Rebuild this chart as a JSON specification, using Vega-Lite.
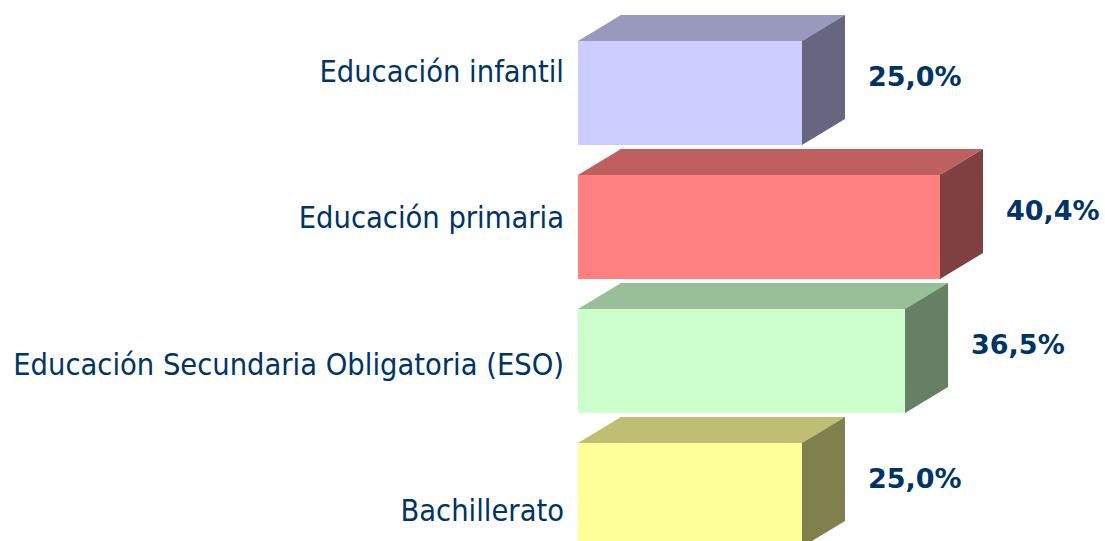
{
  "$schema": "https://vega.github.io/schema/vega-lite/v6.json",
  "autosize": {"type": "none"},
  "width": 448,
  "height": 500,
  "padding": {"left": 578, "top": 41, "right": 79, "bottom": 0},
  "background": "white",
  "config": {
    "view": {"stroke": null},
    "locale": {"number": {"decimal": ",", "thousands": ".", "grouping": [3], "currency": ["", " €"]}}
  },
  "data": {"values": [
    {"categoria": "Educación infantil", "valor": 0.25},
    {"categoria": "Educación primaria", "valor": 0.404},
    {"categoria": "Educación Secundaria Obligatoria (ESO)", "valor": 0.365},
    {"categoria": "Bachillerato", "valor": 0.25}
  ]},
  "layer": [
    {
      "layer": [
        {
          "mark": {"type": "bar"},
          "encoding": {
            "y": {"field": "categoria", "type": "nominal", "sort": null, "axis": null,
                  "scale": {"type": "band", "range": [0, 506], "paddingInner": 0.2239, "paddingOuter": 0}},
            "x": {"field": "valor", "type": "quantitative", "axis": null, "scale": {"domain": [0, 0.5], "nice": false, "zero": true}},
            "color": {"field": "categoria", "type": "nominal", "legend": null,
              "scale": {"domain": ["Educación infantil", "Educación primaria", "Educación Secundaria Obligatoria (ESO)", "Bachillerato"],
                        "range": ["#CCCCFF", "#FF8080", "#CCFFCC", "#FFFF99"]}}
          }
        },
        {
          "mark": {"type": "rule", "strokeWidth": 26, "strokeCap": "butt", "xOffset": 1, "x2Offset": 42, "yOffset": -65},
          "encoding": {
            "y": {"field": "categoria", "type": "nominal", "sort": null},
            "x": {"field": "valor", "type": "quantitative"},
            "x2": {"datum": 0},
            "color": {"field": "categoria", "type": "nominal", "legend": null,
              "scale": {"domain": ["Educación infantil", "Educación primaria", "Educación Secundaria Obligatoria (ESO)", "Bachillerato"],
                        "range": ["#9999C0", "#BF6060", "#99BF99", "#BFBF73"]}}
          }
        },
        {
          "mark": {"type": "point", "shape": "M0,-52L43,-52L43,-78Z", "size": 4, "filled": true, "opacity": 1},
          "encoding": {
            "y": {"field": "categoria", "type": "nominal", "sort": null},
            "x": {"datum": 0, "type": "quantitative"},
            "color": {"field": "categoria", "type": "nominal", "legend": null,
              "scale": {"domain": ["Educación infantil", "Educación primaria", "Educación Secundaria Obligatoria (ESO)", "Bachillerato"],
                        "range": ["#9999C0", "#BF6060", "#99BF99", "#BFBF73"]}}
          }
        },
        {
          "mark": {"type": "point", "shape": "M0,-52L43,-78L0,-78Z", "size": 4, "filled": true, "opacity": 1},
          "encoding": {
            "y": {"field": "categoria", "type": "nominal", "sort": null},
            "x": {"field": "valor", "type": "quantitative"},
            "color": {"field": "categoria", "type": "nominal", "legend": null,
              "scale": {"domain": ["Educación infantil", "Educación primaria", "Educación Secundaria Obligatoria (ESO)", "Bachillerato"],
                        "range": ["#9999C0", "#BF6060", "#99BF99", "#BFBF73"]}}
          }
        },
        {
          "mark": {"type": "point", "shape": "M0,-52L43,-78L43,26L0,52Z", "size": 4, "filled": true, "opacity": 1},
          "encoding": {
            "y": {"field": "categoria", "type": "nominal", "sort": null},
            "x": {"field": "valor", "type": "quantitative"},
            "color": {"field": "categoria", "type": "nominal", "legend": null,
              "scale": {"domain": ["Educación infantil", "Educación primaria", "Educación Secundaria Obligatoria (ESO)", "Bachillerato"],
                        "range": ["#666680", "#804040", "#668066", "#80804D"]}}
          }
        },
        {
          "mark": {"type": "text", "align": "left", "baseline": "alphabetic", "dx": 66, "dy": -7,
                   "font": "DejaVu Sans", "fontWeight": "bold", "fontSize": 27, "color": "#003366"},
          "encoding": {
            "y": {"field": "categoria", "type": "nominal", "sort": null},
            "x": {"field": "valor", "type": "quantitative"},
            "text": {"field": "valor", "type": "quantitative", "format": ".1%"}
          }
        }
      ],
      "resolve": {"scale": {"color": "independent"}}
    },
    {
      "mark": {"type": "text", "align": "right", "baseline": "alphabetic", "dx": -14,
               "font": "DejaVu Sans Condensed, Liberation Sans", "fontSize": 30.5, "color": "#003366"},
      "encoding": {
        "x": {"datum": 0, "type": "quantitative"},
        "y": {"field": "categoria", "type": "nominal", "sort": null, "axis": null,
              "scale": {"type": "point", "range": [41, 480], "padding": 0}},
        "text": {"field": "categoria", "type": "nominal"}
      }
    }
  ],
  "resolve": {"scale": {"y": "independent"}}
}
